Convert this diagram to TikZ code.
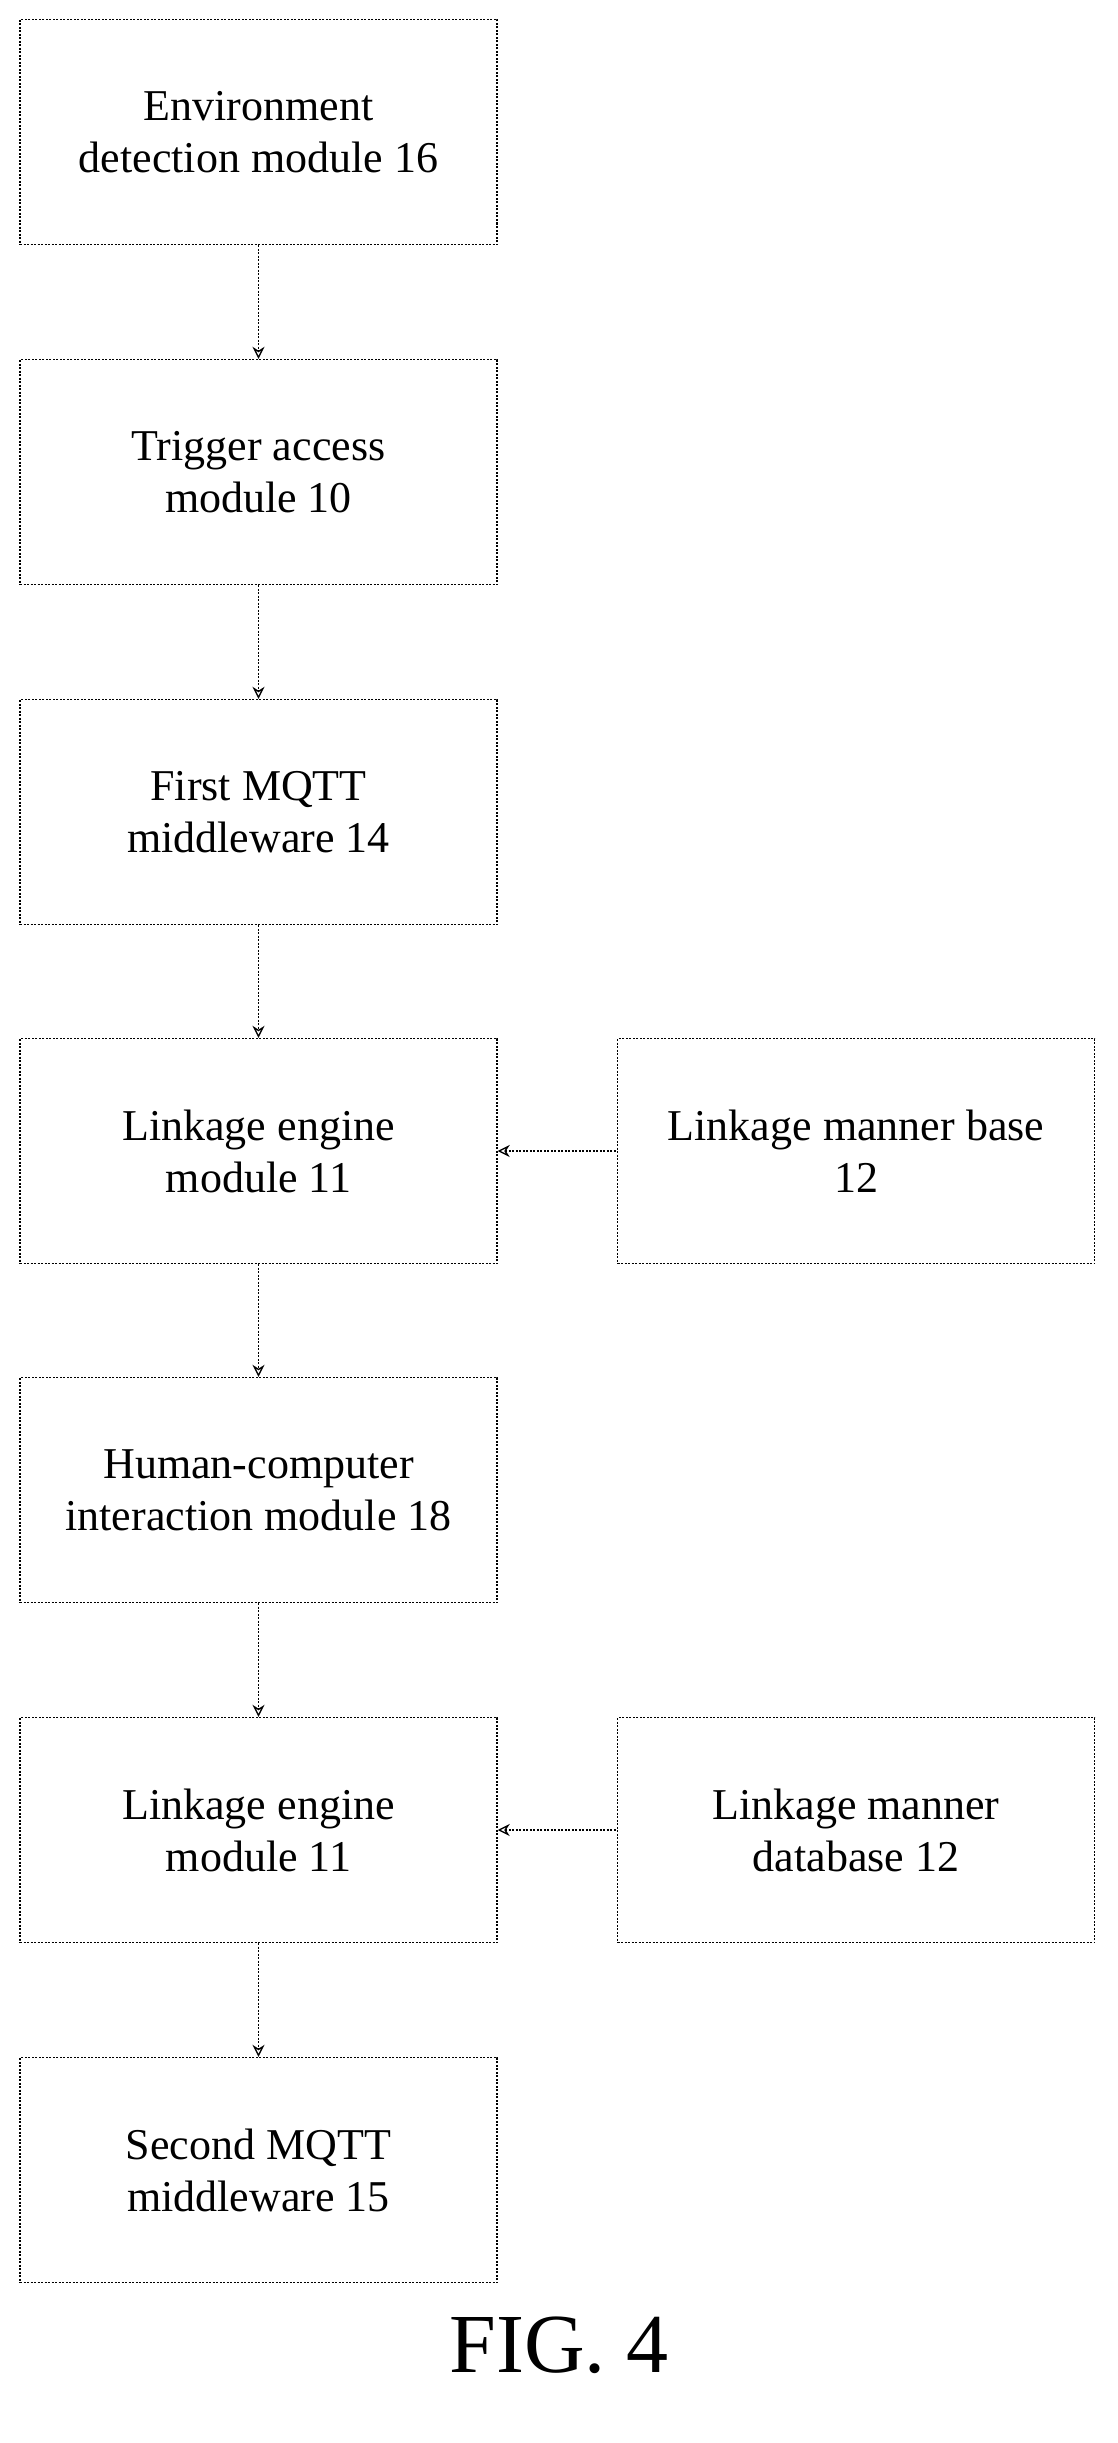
\documentclass[tikz,border=0pt]{standalone}
\usepackage{fontspec}
\setmainfont{Liberation Serif}
\usetikzlibrary{positioning,arrows.meta}
\begin{document}
\begin{tikzpicture}[x=1pt,y=-1pt]
  \tikzset{box/.style = {draw, dash pattern=on 2pt off 1.5pt, line width=1.4pt,
      minimum width=477pt, minimum height=225pt, align=center,
      font=\fontsize{44}{52}\selectfont, inner sep=0pt},
    link/.style = {dash pattern=on 2pt off 1.5pt, line width=1.3pt,
      -{Stealth[length=12pt,width=12pt,open]}}}
  \useasboundingbox (0,0) rectangle (1118,2443);
  \node[box](env) at (258.5,132) {Environment\\detection module 16};
  \node[box](trig) at (258.5,472) {Trigger access\\module 10};
  \node[box](mqtt1) at (258.5,812) {First MQTT\\middleware 14};
  \node[box](eng1) at (258.5,1151) {Linkage engine\\module 11};
  \node[box](base) at (856,1151) {Linkage manner base\\12};
  \node[box](hci) at (258.5,1490) {Human-computer\\interaction module 18};
  \node[box](eng2) at (258.5,1830) {Linkage engine\\module 11};
  \node[box](db) at (856,1830) {Linkage manner\\database 12};
  \node[box](mqtt2) at (258.5,2170) {Second MQTT\\middleware 15};

  \draw[link] (env) -- (trig);
  \draw[link] (trig) -- (mqtt1);
  \draw[link] (mqtt1) -- (eng1);
  \draw[link] (eng1) -- (hci);
  \draw[link] (hci) -- (eng2);
  \draw[link] (eng2) -- (mqtt2);
  \draw[link,{Stealth[length=12pt,width=12pt,open]}-] (eng1) -- (base);
  \draw[link,{Stealth[length=12pt,width=12pt,open]}-] (eng2) -- (db);

  \node(fig) at (559,2345) {\fontsize{84}{90}\selectfont FIG. 4};
\end{tikzpicture}
\end{document}
